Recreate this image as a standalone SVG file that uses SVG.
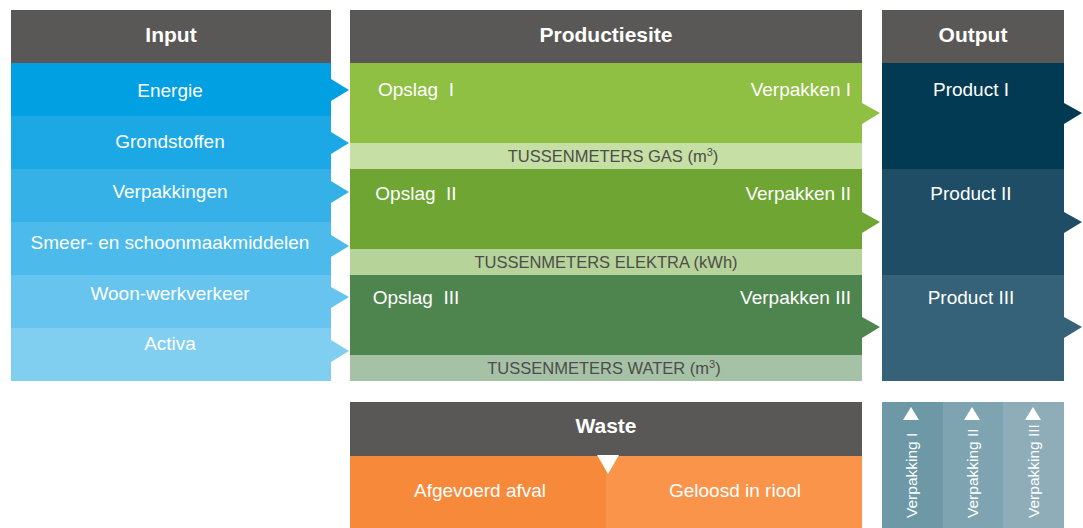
<svg xmlns="http://www.w3.org/2000/svg" width="1083" height="528" viewBox="0 0 1083 528">
<style>
.hdr{fill:#595856}
.ht{font-family:"Liberation Sans",Arial,sans-serif;font-weight:bold;font-size:21px;fill:#fff;text-anchor:middle}
.t{font-family:"Liberation Sans",Arial,sans-serif;font-size:19px;fill:#fff}
.c{text-anchor:middle}
.r{text-anchor:end}
.bt{font-family:"Liberation Sans",Arial,sans-serif;font-size:16.5px;fill:#4d4d4b;text-anchor:middle}
.vt{font-family:"Liberation Sans",Arial,sans-serif;font-size:15.5px;fill:#fff}
</style>
<rect width="1083" height="528" fill="#fff"/>
<g id="input">
<rect class="hdr" x="11" y="10" width="320" height="53"/>
<text class="ht" x="171" y="42">Input</text>
<rect x="11" y="63" width="320" height="53" fill="#00a0e3"/>
<rect x="11" y="116" width="320" height="53" fill="#1ba8e5"/>
<rect x="11" y="169" width="320" height="53" fill="#35b1e8"/>
<rect x="11" y="222" width="320" height="53" fill="#4cbaea"/>
<rect x="11" y="275" width="320" height="53" fill="#66c4ee"/>
<rect x="11" y="328" width="320" height="53" fill="#80cff1"/>
<text class="t c" x="170" y="97">Energie</text>
<text class="t c" x="170" y="148">Grondstoffen</text>
<text class="t c" x="170" y="198">Verpakkingen</text>
<text class="t c" x="170" y="249">Smeer- en schoonmaakmiddelen</text>
<text class="t c" x="170" y="300">Woon-werkverkeer</text>
<text class="t c" x="170" y="350">Activa</text>
</g>
<g id="productiesite">
<rect class="hdr" x="350" y="10" width="512" height="53"/>
<text class="ht" x="606" y="42">Productiesite</text>
<rect x="350" y="63" width="512" height="80" fill="#8fbf43"/>
<rect x="350" y="143" width="512" height="26" fill="#c6dfa4"/>
<rect x="350" y="169" width="512" height="80" fill="#6ea533"/>
<rect x="350" y="249" width="512" height="26" fill="#b6d39a"/>
<rect x="350" y="275" width="512" height="80" fill="#4e854e"/>
<rect x="350" y="355" width="512" height="26" fill="#a6c2a6"/>
<text class="t c" x="416" y="96" xml:space="preserve">Opslag  I</text>
<text class="t r" x="851" y="96">Verpakken I</text>
<text class="t c" x="416" y="200" xml:space="preserve">Opslag  II</text>
<text class="t r" x="851" y="200">Verpakken II</text>
<text class="t c" x="416" y="304" xml:space="preserve">Opslag  III</text>
<text class="t r" x="851" y="304">Verpakken III</text>
<text class="bt" x="613" y="162">TUSSENMETERS GAS (m<tspan font-size="11" dy="-6">3</tspan><tspan dy="6">)</tspan></text>
<text class="bt" x="606" y="268">TUSSENMETERS ELEKTRA (kWh)</text>
<text class="bt" x="604" y="374">TUSSENMETERS WATER (m<tspan font-size="11" dy="-6">3</tspan><tspan dy="6">)</tspan></text>
</g>
<g id="output">
<rect class="hdr" x="882" y="10" width="182" height="53"/>
<text class="ht" x="973" y="42">Output</text>
<rect x="882" y="63" width="182" height="106" fill="#033a53"/>
<rect x="882" y="169" width="182" height="106" fill="#1e4d65"/>
<rect x="882" y="275" width="182" height="106" fill="#356279"/>
<text class="t c" x="971" y="96">Product I</text>
<text class="t c" x="971" y="200">Product II</text>
<text class="t c" x="971" y="304">Product III</text>
</g>
<g id="waste">
<rect class="hdr" x="350" y="402" width="512" height="54"/>
<text class="ht" x="606" y="433">Waste</text>
<rect x="350" y="456" width="256" height="72" fill="#f7893a"/>
<rect x="606" y="456" width="256" height="72" fill="#f9944a"/>
<polygon points="597,455 619,455 608,474" fill="#fff"/>
<text class="t c" x="480" y="497">Afgevoerd afval</text>
<text class="t c" x="735" y="497">Geloosd in riool</text>
</g>
<g id="verpakking">
<rect x="882" y="402" width="61" height="126" fill="#6d98a6"/>
<rect x="943" y="402" width="60" height="126" fill="#7fa4b1"/>
<rect x="1003" y="402" width="61" height="126" fill="#8fadb9"/>
<polygon points="903,420 919,420 911,407" fill="#fff"/>
<polygon points="964,420 980,420 972,407" fill="#fff"/>
<polygon points="1025,420 1041,420 1033,407" fill="#fff"/>
<text class="vt" transform="translate(917,518) rotate(-90)">Verpakking I</text>
<text class="vt" transform="translate(978,518) rotate(-90)">Verpakking II</text>
<text class="vt" transform="translate(1039,518) rotate(-90)">Verpakking III</text>
</g>
<g id="connectors">
<polygon points="331,79 349,90 331,101" fill="#00a0e3"/>
<polygon points="331,132 349,143 331,154" fill="#1ba8e5"/>
<polygon points="331,181 349,192 331,203" fill="#35b1e8"/>
<polygon points="331,235 349,246 331,257" fill="#4cbaea"/>
<polygon points="331,287 349,297 331,308" fill="#66c4ee"/>
<polygon points="331,340 349,351 331,362" fill="#80cff1"/>
<polygon points="862,103 880,113 862,124" fill="#8fbf43"/>
<polygon points="862,212 880,222 862,233" fill="#6ea533"/>
<polygon points="862,317 880,327 862,338" fill="#4e854e"/>
<polygon points="1064,103 1082,113 1064,124" fill="#033a53"/>
<polygon points="1064,212 1082,222 1064,233" fill="#1e4d65"/>
<polygon points="1064,317 1082,327 1064,338" fill="#356279"/>
</g>
</svg>
